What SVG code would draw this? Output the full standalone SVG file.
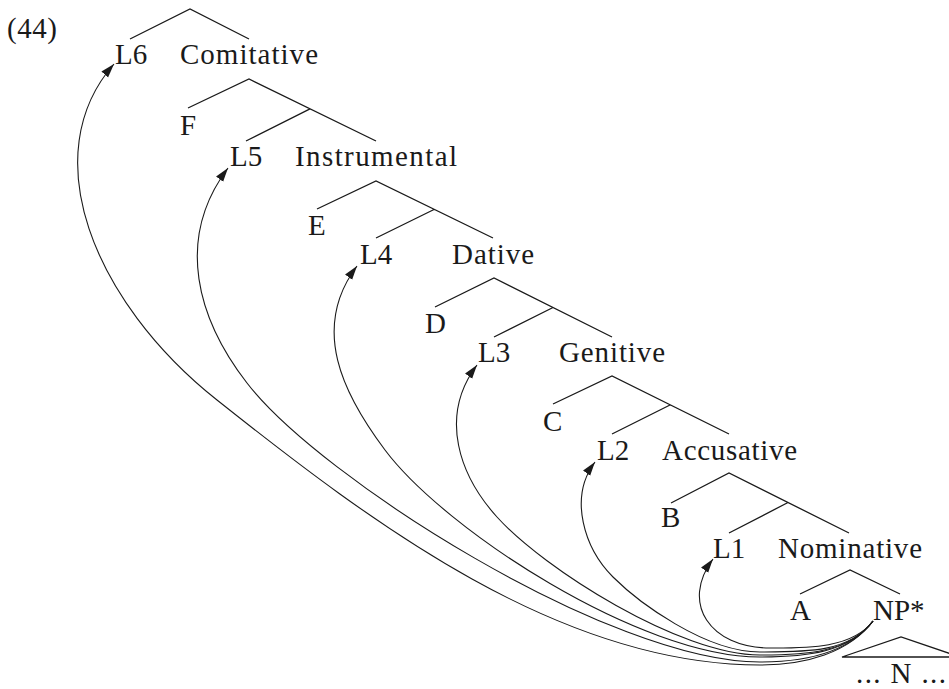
<svg xmlns="http://www.w3.org/2000/svg" width="949" height="689" viewBox="0 0 949 689">
<style>
  .t { font-family: "Liberation Serif", "Times New Roman", serif; font-size: 29px; fill: #1a1a1a; }
  .e { fill: none; stroke: #1a1a1a; stroke-width: 1.3; stroke-linejoin: miter; }
  .a { fill: none; stroke: #1a1a1a; stroke-width: 1.1; marker-end: url(#arr); }
</style>
<defs>
  <marker id="arr" viewBox="0 0 16 10" markerWidth="16" markerHeight="10" refX="14" refY="5" orient="auto" markerUnits="userSpaceOnUse">
    <path d="M0,0.6 L14,5 L0,9.4 Z" fill="#1a1a1a"/>
  </marker>
</defs>
<rect width="949" height="689" fill="#ffffff"/>

<g id="connectors">
  <g id="tree-edges">
    <path class="e" d="M130,39 L190,9 L249,39"/>
    <path class="e" d="M188,108 L249,79 L376,141 M246,141 L310,108.8"/>
    <path class="e" d="M317,209 L376,181 L493,238 M376,238 L434,209.5"/>
    <path class="e" d="M435,307 L494,278 L612,337 M494,337 L553,307.5"/>
    <path class="e" d="M553,404 L612,376 L729,434 M612,434 L670,405"/>
    <path class="e" d="M671,503 L729,473 L849,533 M729,533 L788,502.5"/>
    <path class="e" d="M800,594 L850,570 L900,594"/>
    <path class="e" d="M842,657 L901,637 L960,657 Z"/>
  </g>
  <g id="movement-arrows">
    <path class="a" d="M873,621 C849,653 805,665 760,665 C560,665 373,524 217,400 C92.2,300.8 34.8,154 114,64"/>
    <path class="a" d="M873,621 C849,653 805,662 760,662 C610,662 320,478 247,383 C198.2,319.8 174,240 228,168"/>
    <path class="a" d="M873,621 C849,653 805,657 760,657 C640,657 445,530 385,450 C343,394 310.2,328.4 357,266"/>
    <path class="a" d="M873,621 C849,653 805,655 760,655 C680,655 544,569 497,517 C460.2,476.3 438,417 477,365"/>
    <path class="a" d="M873,621 C849,653 805,652 760,652 C705,652 638,602 613,577 C584.7,548.7 568,498 595,462"/>
    <path class="a" d="M873,621 C852,649 805,648 770,648 C710,648 680,603 713,559"/>
  </g>
</g>

<g id="label-44"><text class="t" x="7" y="38" textLength="50">(44)</text></g>
<g id="node-L6"><text class="t" x="115" y="64">L6</text></g>
<g id="node-Comitative"><text class="t" x="180" y="64" textLength="138">Comitative</text></g>
<g id="node-F"><text class="t" x="180" y="135">F</text></g>
<g id="node-L5"><text class="t" x="230" y="166">L5</text></g>
<g id="node-Instrumental"><text class="t" x="295" y="166" textLength="162">Instrumental</text></g>
<g id="node-E"><text class="t" x="308" y="235">E</text></g>
<g id="node-L4"><text class="t" x="360" y="264">L4</text></g>
<g id="node-Dative"><text class="t" x="452" y="264" textLength="82">Dative</text></g>
<g id="node-D"><text class="t" x="425" y="333">D</text></g>
<g id="node-L3"><text class="t" x="478" y="362">L3</text></g>
<g id="node-Genitive"><text class="t" x="559" y="362" textLength="106">Genitive</text></g>
<g id="node-C"><text class="t" x="543" y="431">C</text></g>
<g id="node-L2"><text class="t" x="597" y="460">L2</text></g>
<g id="node-Accusative"><text class="t" x="662" y="460" textLength="135">Accusative</text></g>
<g id="node-B"><text class="t" x="661" y="527">B</text></g>
<g id="node-L1"><text class="t" x="713" y="558">L1</text></g>
<g id="node-Nominative"><text class="t" x="778" y="558" textLength="144">Nominative</text></g>
<g id="node-A"><text class="t" x="790" y="620">A</text></g>
<g id="node-NP"><text class="t" x="873" y="620" font-size="31">NP*</text></g>
<g id="node-N"><text class="t" x="856" y="683" textLength="90">... N ...</text></g>
</svg>
